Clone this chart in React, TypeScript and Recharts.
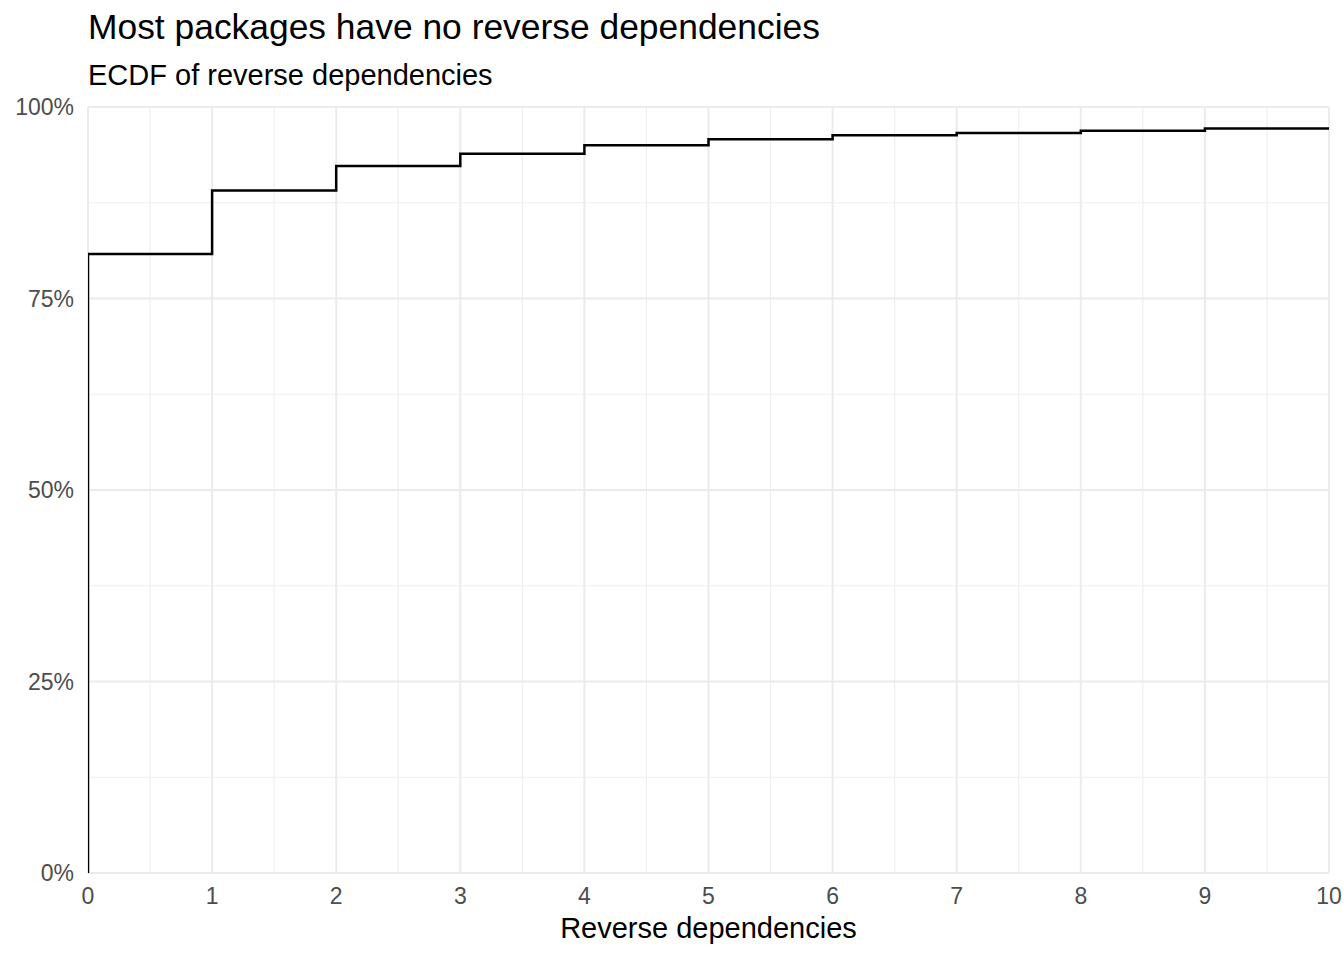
import { LineChart, Line, XAxis, YAxis, CartesianGrid } from 'recharts';

// reverse dependency count and ECDF share (%)
const depCounts = [0, 0, 1, 2, 3, 4, 5, 6, 7, 8, 9, 10];
const ecdfShare = [0, 80.8, 89.1, 92.3, 93.9, 95.0, 95.8, 96.3, 96.6, 96.9, 97.2, 97.2];

const xTicks = [0, 1, 2, 3, 4, 5, 6, 7, 8, 9, 10];
const xMinor = [0.5, 1.5, 2.5, 3.5, 4.5, 5.5, 6.5, 7.5, 8.5, 9.5];
const yTicks = [0, 25, 50, 75, 100];
const yMinor = [12.5, 37.5, 62.5, 87.5];

const data = depCounts.map((x, i) => ({ x, y: ecdfShare[i] }));

const FONT = '"Liberation Sans", Arial, sans-serif';
const tickStyle = { fill: '#4d4d4d', fontSize: 23, fontFamily: FONT };

export default function App() {
    return (
        <div style={{ position: 'absolute', left: 0, top: 0, width: 1344, height: 960, background: '#fff', fontFamily: FONT }}>
            <div style={{ position: 'absolute', left: 88, top: 10, fontSize: 35.4, lineHeight: 1, color: '#000', whiteSpace: 'nowrap' }}>
                Most packages have no reverse dependencies
            </div>
            <div style={{ position: 'absolute', left: 88, top: 61, fontSize: 29, lineHeight: 1, color: '#000', whiteSpace: 'nowrap' }}>
                ECDF of reverse dependencies
            </div>
            <LineChart width={1344} height={960} data={data} margin={{ top: 107, right: 15, bottom: 0, left: 0 }}>
                <CartesianGrid stroke="#efefef" strokeWidth={1.2} horizontalValues={yMinor} verticalValues={xMinor} />
                <CartesianGrid stroke="#ebebeb" strokeWidth={2} horizontalValues={yTicks} verticalValues={xTicks} />
                <XAxis
                    dataKey="x"
                    type="number"
                    domain={[0, 10]}
                    ticks={xTicks}
                    allowDataOverflow
                    height={87}
                    axisLine={false}
                    tickLine={false}
                    tickSize={6}
                    tickMargin={9}
                    tick={tickStyle}
                    interval={0}
                    label={{ value: 'Reverse dependencies', position: 'insideBottom', offset: 22, fill: '#000', fontSize: 29, fontFamily: FONT }}
                />
                <YAxis
                    type="number"
                    domain={[0, 100]}
                    ticks={yTicks}
                    width={88}
                    axisLine={false}
                    tickLine={false}
                    tickSize={6}
                    tickMargin={8}
                    tick={tickStyle}
                    interval={0}
                    tickFormatter={(v: number) => `${v}%`}
                />
                <Line
                    type="stepAfter"
                    dataKey="y"
                    stroke="#000"
                    strokeWidth={2.5}
                    dot={false}
                    activeDot={false}
                    isAnimationActive={false}
                />
            </LineChart>
        </div>
    );
}
